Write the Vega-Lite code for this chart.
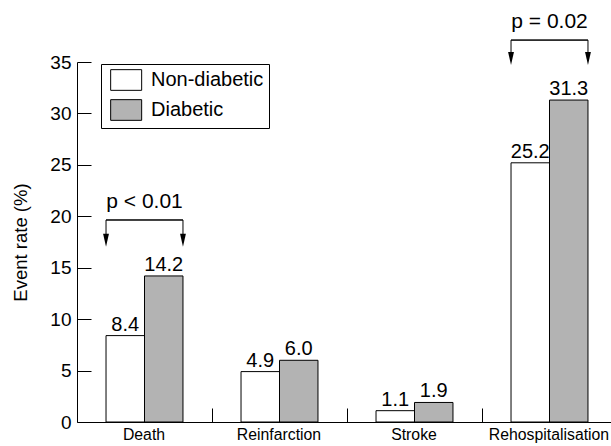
{
  "$schema": "https://vega.github.io/schema/vega-lite/v6.json",
  "width": 534,
  "height": 360,
  "autosize": "none",
  "padding": {"left": 77, "top": 62, "right": 0, "bottom": 24},
  "background": "white",
  "config": {
    "view": {"stroke": null},
    "font": "Liberation Sans",
    "axis": {"domainColor": "black", "tickColor": "black", "labelColor": "black", "titleColor": "black", "grid": false, "labelFont": "Liberation Sans", "titleFont": "Liberation Sans"}
  },
  "datasets": {
    "bars": [
      {"event": "Death", "group": "Non-diabetic", "rate": 8.4},
      {"event": "Death", "group": "Diabetic", "rate": 14.2},
      {"event": "Reinfarction", "group": "Non-diabetic", "rate": 4.9},
      {"event": "Reinfarction", "group": "Diabetic", "rate": 6.0},
      {"event": "Stroke", "group": "Non-diabetic", "rate": 1.1},
      {"event": "Stroke", "group": "Diabetic", "rate": 1.9},
      {"event": "Rehospitalisation", "group": "Non-diabetic", "rate": 25.2},
      {"event": "Rehospitalisation", "group": "Diabetic", "rate": 31.3}
    ],
    "brackets": [
      {"event": "Death", "label": "p < 0.01", "bracket": 19.64, "arrow": 17.67, "labelY": 20.8},
      {"event": "Rehospitalisation", "label": "p = 0.02", "bracket": 37.13, "arrow": 35.34, "labelY": 38.3}
    ]
  },
  "encoding": {
    "x": {
      "field": "event",
      "type": "nominal",
      "sort": ["Death", "Reinfarction", "Stroke", "Rehospitalisation"],
      "scale": {"paddingInner": 0.43, "paddingOuter": 0.215, "range": [0, 540]},
      "axis": {"title": null, "labelAngle": 0, "labelFontSize": 15.8, "tickSize": -14, "tickOffset": 67.5, "labelOffset": -68.5, "labelPadding": 19, "labelBaseline": "top", "domainWidth": 1}
    }
  },
  "layer": [
    {
      "data": {"name": "bars"},
      "mark": {"type": "bar", "stroke": "black", "strokeWidth": 1},
      "encoding": {
        "xOffset": {"field": "group", "type": "nominal", "sort": ["Non-diabetic", "Diabetic"], "scale": {"paddingInner": 0, "paddingOuter": 0}},
        "y": {
          "field": "rate",
          "type": "quantitative",
          "scale": {"domain": [0, 35], "nice": false},
          "axis": {"title": "Event rate (%)", "values": [0, 5, 10, 15, 20, 25, 30, 35], "tickSize": -14, "labelPadding": 20, "labelFontSize": 19, "titleFontSize": 18.5, "titleFontWeight": "normal", "titlePadding": 19}
        },
        "fill": {
          "field": "group",
          "type": "nominal",
          "sort": ["Non-diabetic", "Diabetic"],
          "scale": {"domain": ["Non-diabetic", "Diabetic"], "range": ["white", "#b3b3b3"]},
          "legend": {
            "title": null,
            "orient": "none",
            "legendX": 24,
            "legendY": 2,
            "strokeColor": "black",
            "fillColor": "white",
            "padding": 5,
            "symbolType": "M-1,-1L2,-1L2,1L-1,1Z",
            "symbolSize": 427,
            "symbolOffset": 4,
            "symbolStrokeColor": "black",
            "symbolStrokeWidth": 1,
            "symbolOpacity": 1,
            "labelFont": "Liberation Sans",
            "labelFontSize": 20,
            "labelColor": "black",
            "labelOffset": 19,
            "rowPadding": 4,
            "labelLimit": 300
          }
        }
      }
    },
    {
      "data": {"name": "bars"},
      "mark": {"type": "text", "baseline": "alphabetic", "dy": -5, "fontSize": 20, "color": "black"},
      "encoding": {
        "xOffset": {"field": "group", "type": "nominal", "sort": ["Non-diabetic", "Diabetic"]},
        "y": {"field": "rate", "type": "quantitative"},
        "text": {"field": "rate", "type": "quantitative", "format": ".1f"}
      }
    },
    {
      "data": {"name": "brackets"},
      "mark": {"type": "bar", "fill": null, "stroke": "black", "strokeWidth": 1},
      "encoding": {
        "y": {"field": "bracket", "type": "quantitative"},
        "y2": {"field": "bracket"}
      }
    },
    {
      "data": {"name": "brackets"},
      "mark": {"type": "rule", "stroke": "black", "strokeWidth": 1},
      "encoding": {
        "x": {"field": "event", "type": "nominal", "sort": ["Death", "Reinfarction", "Stroke", "Rehospitalisation"], "bandPosition": 0},
        "y": {"field": "bracket", "type": "quantitative"},
        "y2": {"field": "arrow"}
      }
    },
    {
      "data": {"name": "brackets"},
      "mark": {"type": "rule", "stroke": "black", "strokeWidth": 1},
      "encoding": {
        "x": {"field": "event", "type": "nominal", "sort": ["Death", "Reinfarction", "Stroke", "Rehospitalisation"], "bandPosition": 1},
        "y": {"field": "bracket", "type": "quantitative"},
        "y2": {"field": "arrow"}
      }
    },
    {
      "data": {"name": "brackets"},
      "mark": {"type": "point", "shape": "M-0.45,-1L0.45,-1L0,1Z", "size": 169, "filled": true, "color": "black", "opacity": 1},
      "encoding": {
        "x": {"field": "event", "type": "nominal", "sort": ["Death", "Reinfarction", "Stroke", "Rehospitalisation"], "bandPosition": 0},
        "y": {"field": "arrow", "type": "quantitative"}
      }
    },
    {
      "data": {"name": "brackets"},
      "mark": {"type": "point", "shape": "M-0.45,-1L0.45,-1L0,1Z", "size": 169, "filled": true, "color": "black", "opacity": 1},
      "encoding": {
        "x": {"field": "event", "type": "nominal", "sort": ["Death", "Reinfarction", "Stroke", "Rehospitalisation"], "bandPosition": 1},
        "y": {"field": "arrow", "type": "quantitative"}
      }
    },
    {
      "data": {"name": "brackets"},
      "mark": {"type": "text", "baseline": "alphabetic", "fontSize": 21, "color": "black"},
      "encoding": {
        "y": {"field": "labelY", "type": "quantitative"},
        "text": {"field": "label"}
      }
    }
  ]
}
